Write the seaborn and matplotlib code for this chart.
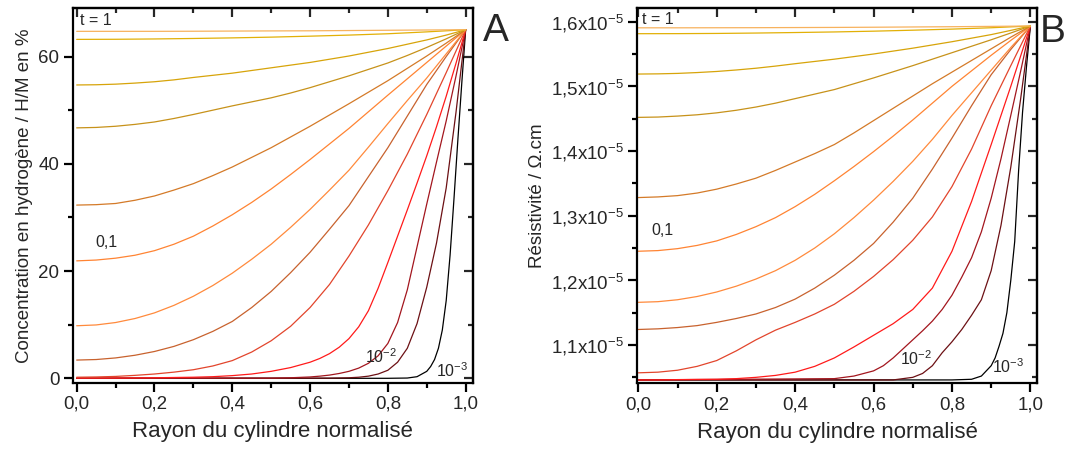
import numpy as np
import pandas as pd
import matplotlib
matplotlib.use("Agg")
import matplotlib.pyplot as plt
from matplotlib.ticker import FuncFormatter, MultipleLocator
import seaborn as sns

# ------------------------------------------------------------------ #
# Data (13 profiles, t = 1 ... 10^-3)
# ------------------------------------------------------------------ #
X_COARSE = [0.0, 0.1, 0.2, 0.3, 0.4, 0.5, 0.6, 0.7, 0.8, 0.9, 1.0]
X_FINE = [0.0, 0.05, 0.1, 0.15, 0.2, 0.25, 0.3, 0.35, 0.4, 0.45, 0.5,
          0.55, 0.6, 0.65, 0.7, 0.75, 0.8, 0.85, 0.9, 0.95, 1.0]

# A : hydrogen concentration (H/M in %)
A1 = [64.7, 64.7, 64.7, 64.72, 64.75, 64.78, 64.8, 64.85, 64.9, 64.95, 65.0]
A2 = [63.2, 63.22, 63.28, 63.37, 63.48, 63.62, 63.8, 64.0, 64.25, 64.6, 65.0]
A3 = [54.7, 54.74, 54.85, 55.05, 55.3, 55.65, 56.1, 56.5, 56.9, 57.4, 57.9,
      58.4, 58.9, 59.5, 60.1, 60.8, 61.5, 62.3, 63.1, 64.0, 65.0]
A4 = [46.7, 46.78, 47.0, 47.35, 47.8, 48.45, 49.2, 50.0, 50.8, 51.55, 52.3,
      53.2, 54.2, 55.3, 56.4, 57.6, 58.8, 60.2, 61.7, 63.3, 65.0]
A5 = [32.3, 32.38, 32.6, 33.2, 34.0, 35.1, 36.3, 37.8, 39.4, 41.2, 43.0,
      45.0, 47.0, 49.1, 51.2, 53.35, 55.5, 57.8, 60.1, 62.5, 65.0]
A6 = [21.9, 22.05, 22.4, 22.95, 23.8, 25.0, 26.5, 28.4, 30.5, 32.8, 35.3,
      38.0, 40.8, 43.7, 46.6, 49.7, 52.8, 55.85, 58.9, 61.95, 65.0]
A7 = [9.8, 9.95, 10.4, 11.15, 12.2, 13.6, 15.3, 17.3, 19.6, 22.2, 25.0,
      28.15, 31.5, 35.1, 38.8, 43.1, 47.5, 51.8, 56.0, 60.5, 65.0]
A8 = [3.4, 3.5, 3.8, 4.3, 5.0, 5.95, 7.2, 8.75, 10.6, 13.2, 16.2,
      19.7, 23.5, 27.8, 32.2, 37.6, 43.0, 48.9, 54.8, 60.0, 65.0]
A9 = [0.2, 0.25, 0.35, 0.55, 0.8, 1.15, 1.6, 2.3, 3.3, 4.9, 7.0,
      9.7, 13.2, 17.5, 22.8, 28.6, 35.0, 41.8, 49.2, 57.0, 65.0]
A10_X = [0.0, 0.1, 0.2, 0.3, 0.35, 0.4, 0.45, 0.5, 0.55, 0.6, 0.625, 0.65, 0.675,
         0.7, 0.725, 0.75, 0.775, 0.8, 0.825, 0.85, 0.875, 0.9, 0.925, 0.95, 0.975, 1.0]
A10 = [0.05, 0.05, 0.1, 0.2, 0.3, 0.5, 0.8, 1.3, 2.0, 3.0, 3.7, 4.6, 5.8,
       7.4, 9.6, 12.6, 16.8, 21.6, 26.5, 31.4, 36.4, 41.5, 46.9, 52.6, 58.7, 65.0]
A11_X = [0.0, 0.5, 0.55, 0.6, 0.625, 0.65, 0.675, 0.7, 0.725, 0.75, 0.775, 0.8,
         0.825, 0.85, 0.875, 0.9, 0.925, 0.95, 0.975, 1.0]
A11 = [0.0, 0.03, 0.1, 0.25, 0.4, 0.6, 0.9, 1.3, 1.9, 2.8, 4.2, 6.5,
       10.4, 16.5, 24.5, 32.5, 40.3, 48.0, 56.3, 65.0]
A12_X = [0.0, 0.65, 0.7, 0.725, 0.75, 0.775, 0.8, 0.825, 0.85, 0.875, 0.9,
         0.925, 0.95, 0.975, 1.0]
A12 = [0.0, 0.03, 0.1, 0.2, 0.4, 0.8, 1.5, 3.0, 5.6, 10.2, 17.0,
       25.2, 35.5, 49.5, 65.0]
A13_X = [0.0, 0.8, 0.85, 0.875, 0.9, 0.91, 0.92, 0.93, 0.94, 0.95, 0.96,
         0.97, 0.98, 0.99, 1.0]
A13 = [0.0, 0.0, 0.05, 0.3, 1.3, 2.2, 3.5, 5.6, 9.0, 14.5, 23.0,
       33.5, 44.5, 55.0, 65.0]

# B : resistivity (x1e-5 Ohm.cm)
B1 = [1.5905, 1.5905, 1.5906, 1.5907, 1.5909, 1.5911, 1.5914, 1.5918, 1.5922, 1.5927, 1.5933]
B2 = [1.5814, 1.5815, 1.5818, 1.5824, 1.5832, 1.5841, 1.5853, 1.5868, 1.5885, 1.5906, 1.5933]
B3 = [1.519, 1.5193, 1.520, 1.5213, 1.523, 1.5253, 1.528, 1.5313, 1.535, 1.5385, 1.542,
      1.546, 1.550, 1.5545, 1.559, 1.564, 1.569, 1.5745, 1.580, 1.5865, 1.5933]
B4 = [1.452, 1.4525, 1.454, 1.456, 1.459, 1.463, 1.468, 1.474, 1.481, 1.488, 1.495,
      1.504, 1.513, 1.5225, 1.532, 1.542, 1.552, 1.562, 1.572, 1.5825, 1.5933]
B5 = [1.328, 1.329, 1.331, 1.335, 1.341, 1.349, 1.358, 1.370, 1.383, 1.396, 1.410,
      1.428, 1.447, 1.466, 1.485, 1.504, 1.522, 1.540, 1.558, 1.576, 1.5933]
B6 = [1.245, 1.246, 1.249, 1.254, 1.261, 1.271, 1.283, 1.297, 1.314, 1.333, 1.354,
      1.376, 1.399, 1.423, 1.448, 1.474, 1.500, 1.524, 1.548, 1.571, 1.5933]
B7 = [1.166, 1.167, 1.170, 1.175, 1.182, 1.191, 1.202, 1.215, 1.231, 1.250, 1.272,
      1.297, 1.324, 1.353, 1.384, 1.418, 1.455, 1.490, 1.525, 1.560, 1.5933]
B8 = [1.124, 1.125, 1.127, 1.130, 1.135, 1.141, 1.148, 1.158, 1.171, 1.188, 1.208,
      1.231, 1.257, 1.290, 1.327, 1.372, 1.420, 1.470, 1.518, 1.557, 1.5933]
B9 = [1.057, 1.058, 1.061, 1.067, 1.076, 1.091, 1.108, 1.123, 1.135, 1.148, 1.163,
      1.183, 1.206, 1.232, 1.262, 1.298, 1.345, 1.403, 1.470, 1.532, 1.5933]
B10 = [1.046, 1.046, 1.0465, 1.0468, 1.047, 1.048, 1.050, 1.053, 1.058, 1.067, 1.080,
       1.097, 1.115, 1.133, 1.155, 1.188, 1.245, 1.322, 1.410, 1.500, 1.5933]
B11_X = [0.0, 0.5, 0.55, 0.6, 0.625, 0.65, 0.675, 0.7, 0.725, 0.75, 0.775, 0.8,
         0.825, 0.85, 0.875, 0.9, 0.925, 0.95, 0.975, 1.0]
B11 = [1.046, 1.048, 1.052, 1.060, 1.068, 1.080, 1.094, 1.108, 1.122, 1.137, 1.155, 1.177,
       1.205, 1.235, 1.275, 1.327, 1.388, 1.455, 1.523, 1.5933]
B12_X = [0.0, 0.65, 0.7, 0.725, 0.75, 0.775, 0.8, 0.825, 0.85, 0.875, 0.9,
         0.925, 0.95, 0.975, 1.0]
B12 = [1.046, 1.046, 1.050, 1.056, 1.068, 1.088, 1.105, 1.124, 1.146, 1.170, 1.215,
       1.285, 1.375, 1.480, 1.5933]
B13_X = [0.0, 0.8, 0.85, 0.875, 0.9, 0.91, 0.92, 0.93, 0.94, 0.95, 0.96,
         0.97, 0.98, 0.99, 1.0]
B13 = [1.046, 1.046, 1.047, 1.052, 1.068, 1.080, 1.098, 1.118, 1.150, 1.200, 1.260,
       1.370, 1.460, 1.530, 1.5933]

COLORS = ["#F7B25E", "#E2B007", "#D7A40A", "#C7921A", "#D47A28", "#FF8433",
          "#FF8A3C", "#C8622E", "#E2452C", "#FF1A1A", "#A3161E", "#6C1014", "#000000"]

A_CURVES = [(X_COARSE, A1), (X_COARSE, A2), (X_FINE, A3), (X_FINE, A4), (X_FINE, A5),
            (X_FINE, A6), (X_FINE, A7), (X_FINE, A8), (X_FINE, A9), (A10_X, A10),
            (A11_X, A11), (A12_X, A12), (A13_X, A13)]
B_CURVES = [(X_COARSE, B1), (X_COARSE, B2), (X_FINE, B3), (X_FINE, B4), (X_FINE, B5),
            (X_FINE, B6), (X_FINE, B7), (X_FINE, B8), (X_FINE, B9), (X_FINE, B10),
            (B11_X, B11), (B12_X, B12), (B13_X, B13)]


def to_long(curves):
    rows = []
    for i, (xs, ys) in enumerate(curves):
        for x, y in zip(xs, ys):
            rows.append({"curve": f"c{i + 1}", "r": x, "v": y})
    return pd.DataFrame(rows)


sns.set_theme(style="ticks")
plt.rcParams["font.family"] = ["Liberation Sans", "DejaVu Sans"]
plt.rcParams["mathtext.fontset"] = "custom"
plt.rcParams["mathtext.rm"] = "Liberation Sans"
plt.rcParams["mathtext.it"] = "Liberation Sans:italic"
plt.rcParams["mathtext.bf"] = "Liberation Sans:bold"
plt.rcParams["lines.solid_joinstyle"] = "round"

TICK_FS = 13.5
LABEL_FS = 16
ANNOT_FS = 11.5
SPINE_W = 1.6

fig = plt.figure(figsize=(10.72, 4.55), dpi=100)
axA = fig.add_axes([0.0678, 0.1589, 0.3734, 0.8229])
axB = fig.add_axes([0.5945, 0.1576, 0.3729, 0.8242])

palette = {f"c{i + 1}": c for i, c in enumerate(COLORS)}
order = [f"c{i}" for i in range(13, 0, -1)]

comma = FuncFormatter(lambda v, p: f"{v:.1f}".replace(".", ","))


def mirror_ticks(ax, major, minor):
    top = ax.secondary_xaxis("top")
    top.xaxis.set_major_locator(MultipleLocator(0.2))
    top.xaxis.set_minor_locator(MultipleLocator(0.1))
    right = ax.secondary_yaxis("right")
    right.yaxis.set_major_locator(MultipleLocator(major))
    right.yaxis.set_minor_locator(MultipleLocator(minor))
    for sec in (top, right):
        sec.tick_params(which="major", direction="in", length=6.5, width=SPINE_W,
                        labeltop=False, labelright=False)
        sec.tick_params(which="minor", direction="in", length=3.5, width=SPINE_W)
        for s in sec.spines.values():
            s.set_linewidth(SPINE_W)


def style_axes(ax, major, minor):
    for s in ax.spines.values():
        s.set_linewidth(SPINE_W)
        s.set_color("black")
    ax.tick_params(which="major", direction="out", length=6.5, width=SPINE_W,
                   labelsize=TICK_FS, color="black", pad=3)
    ax.tick_params(which="minor", direction="out", length=3.5, width=SPINE_W, color="black")
    ax.xaxis.set_major_locator(MultipleLocator(0.2))
    ax.xaxis.set_minor_locator(MultipleLocator(0.1))
    ax.xaxis.set_major_formatter(comma)
    ax.yaxis.set_major_locator(MultipleLocator(major))
    ax.yaxis.set_minor_locator(MultipleLocator(minor))
    ax.set_xlabel("Rayon du cylindre normalisé", fontsize=LABEL_FS, labelpad=6)
    mirror_ticks(ax, major, minor)


# ------------------------------------------------------------------ #
# Panel A
# ------------------------------------------------------------------ #
dfA = to_long(A_CURVES)
sns.lineplot(data=dfA, x="r", y="v", hue="curve", hue_order=order, palette=palette,
             sort=False, estimator=None, legend=False, linewidth=0.9, ax=axA)
axA.set_xlim(-0.0103, 1.0188)
axA.set_ylim(-0.82, 69.0)
style_axes(axA, 20, 10)
axA.yaxis.set_major_formatter(FuncFormatter(lambda v, p: f"{v:.0f}"))
axA.set_ylabel("Concentration en hydrogène / H/M en %", fontsize=13.5, labelpad=4)

axA.text(0.008, 66.8, "t = 1", fontsize=ANNOT_FS, va="center", ha="left")
axA.text(0.047, 25.4, "0,1", fontsize=ANNOT_FS, va="center", ha="left")
axA.text(0.741, 4.0, r"10$^{-2}$", fontsize=ANNOT_FS, va="center", ha="left")
axA.text(0.925, 1.4, r"10$^{-3}$", fontsize=ANNOT_FS, va="center", ha="left")
fig.text(0.4506, 1 - 31 / 455, "A", fontsize=28, va="center", ha="left")

# ------------------------------------------------------------------ #
# Panel B
# ------------------------------------------------------------------ #
dfB = to_long(B_CURVES)
sns.lineplot(data=dfB, x="r", y="v", hue="curve", hue_order=order, palette=palette,
             sort=False, estimator=None, legend=False, linewidth=0.9, ax=axB)
axB.set_xlim(-0.0026, 1.017)
axB.set_ylim(1.0408, 1.6207)
style_axes(axB, 0.1, 0.05)
axB.yaxis.set_major_formatter(FuncFormatter(
    lambda v, p: f"{v:.1f}".replace(".", ",") + r"x10$^{\mathregular{-5}}$"))
axB.set_ylabel("Résistivité / Ω.cm", fontsize=13.5, labelpad=4)

axB.text(0.009, 1.6026, "t = 1", fontsize=ANNOT_FS, va="center", ha="left")
axB.text(0.034, 1.2766, "0,1", fontsize=ANNOT_FS, va="center", ha="left")
axB.text(0.668, 1.0783, r"10$^{-2}$", fontsize=ANNOT_FS, va="center", ha="left")
axB.text(0.902, 1.0664, r"10$^{-3}$", fontsize=ANNOT_FS, va="center", ha="left")
fig.text(1040 / 1072, 1 - 32 / 455, "B", fontsize=28, va="center", ha="left")

fig.savefig("out.png", dpi=100)
